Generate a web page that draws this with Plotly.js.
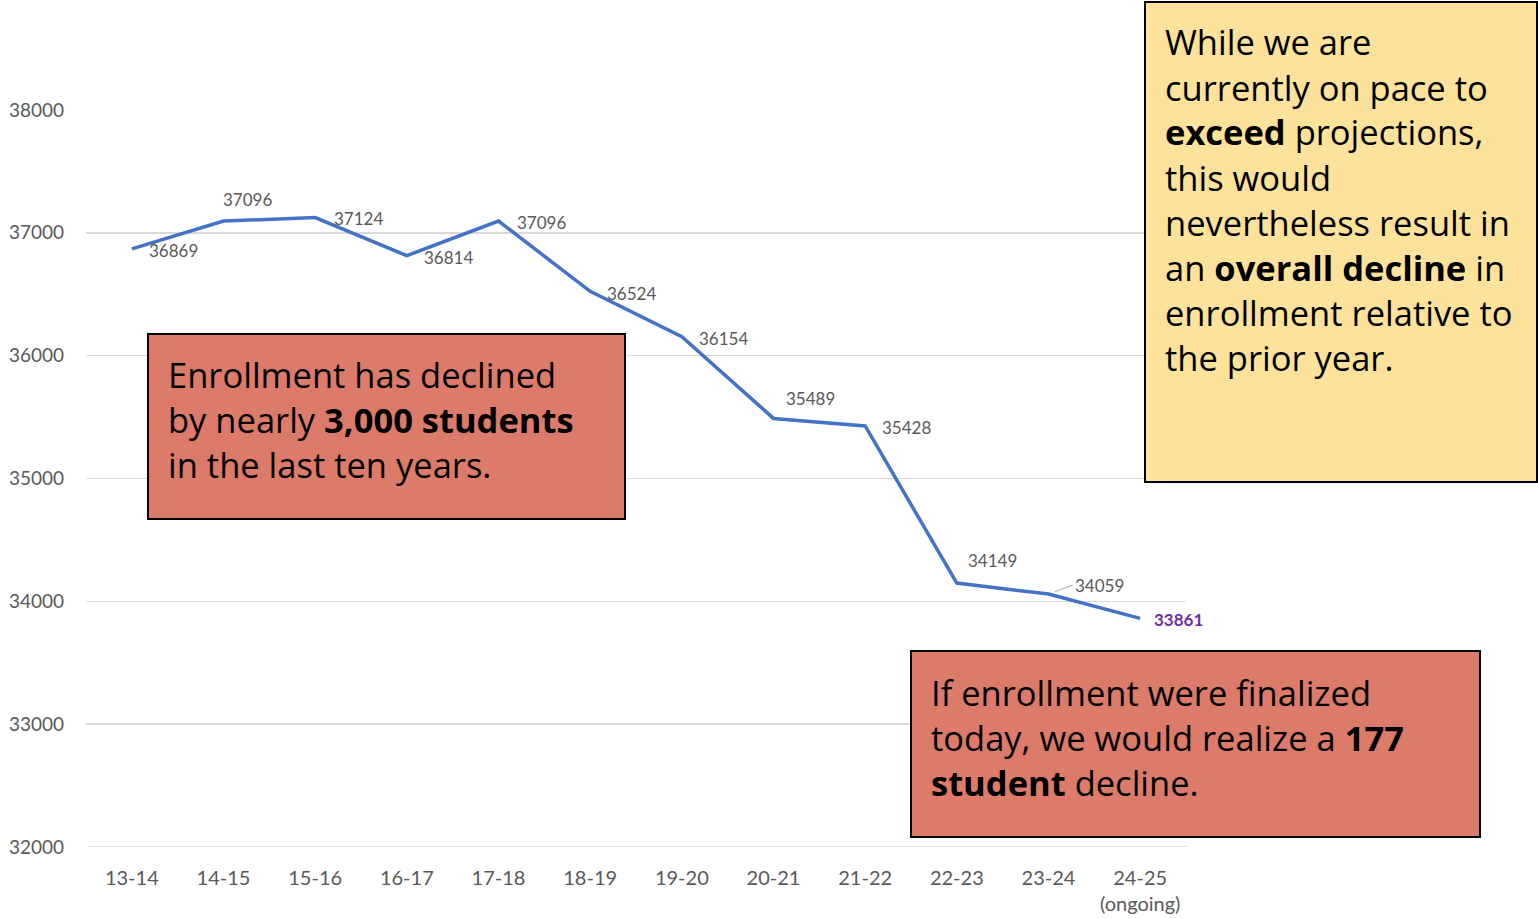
<!DOCTYPE html>
<html>
<head>
<meta charset="utf-8">
<script src="https://cdn.plot.ly/plotly-3.0.1.min.js"></script>
<style>
html,body{margin:0;padding:0;background:#fff;}
#chart{width:1538px;height:919px;}
</style>
</head>
<body>
<div id="chart"></div>
<script>
// ---- data ----
var years = ["13-14","14-15","15-16","16-17","17-18","18-19","19-20","20-21","21-22","22-23","23-24","24-25"];
var yearLabels = ["13-14","14-15","15-16","16-17","17-18","18-19","19-20","20-21","21-22","22-23","23-24","24-25<br>(ongoing)"];
var enrollment = [36869, 37096, 37124, 36814, 37096, 36524, 36154, 35489, 35428, 34149, 34059, 33861];
var yTicks = [32000, 33000, 34000, 35000, 36000, 37000, 38000];

var box1Lines = ["Enrollment has declined", "by nearly <b>3,000 students</b>", "in the last ten years."];
var box2Lines = ["If enrollment were finalized", "today, we would realize a <b>177</b>", "<b>student</b> decline."];
var box3Lines = ["While we are", "currently on pace to", "<b>exceed</b> projections,", "this would",
                 "nevertheless result in", "an <b>overall decline</b> in", "enrollment relative to", "the prior year."];

// ---- label placement (style) ----
// [xshift, yshift, xanchor]
var labelPos = [
  [15,-2,"left"],[24,22,"center"],[17,-1,"left"],[15,-2,"left"],[16,-1,"left"],[15,-2,"left"],
  [15,-2,"left"],[37,20,"center"],[15,-2,"left"],[36,23,"center"],[0,0,"left"],[12,-1,"left"]
];

// plot area in pixels
var L = 86, R = 1186, T = 110, B = 847;
function px(x){ return (x - L) / (R - L); }
function py(y){ return (B - y) / (B - T); }

var annotations = [];
enrollment.forEach(function(v, i){
  var p = labelPos[i];
  var isLast = i === enrollment.length - 1;
  if (i === 10) {
    annotations.push({
      x: i, y: v, xref: "x", yref: "y",
      text: String(v), showarrow: true, arrowhead: 0, arrowwidth: 1, arrowcolor: "#a6a6a6",
      ax: 24, ay: -9, standoff: 7, xanchor: "left", yanchor: "middle",
      font: {family: "Lato, sans-serif", size: 17, color: "#595959"}
    });
    return;
  }
  annotations.push({
    x: i, y: v, xref: "x", yref: "y",
    text: isLast ? "<b>" + v + "</b>" : String(v),
    showarrow: false, xanchor: p[2], yanchor: "middle",
    xshift: p[0], yshift: p[1],
    font: {family: "Lato, sans-serif", size: 17, color: isLast ? "#7030a0" : "#595959"}
  });
});

var boxFont = {family: "'Open Sans', sans-serif", size: 34.5, color: "#000"};
function addLines(lines, left, firstCenter){
  lines.forEach(function(t, k){
    annotations.push({
      xref: "paper", yref: "paper", x: px(left), y: py(firstCenter + 45 * k),
      xanchor: "left", yanchor: "middle", align: "left", showarrow: false,
      font: boxFont, text: t
    });
  });
}
addLines(box1Lines, 166, 374);
addLines(box2Lines, 929, 692);
addLines(box3Lines, 1163, 42);

var shapes = [
  {type: "line", xref: "paper", yref: "y", x0: px(88), x1: px(1188), y0: yTicks[0], y1: yTicks[0],
   line: {color: "#d9d9d9", width: 1.5}, layer: "below"},
  {type: "rect", xref: "paper", yref: "paper", x0: px(148), x1: px(625), y0: py(334), y1: py(519),
   fillcolor: "#dd7b6a", line: {color: "#000", width: 2}, layer: "above"},
  {type: "rect", xref: "paper", yref: "paper", x0: px(911), x1: px(1480), y0: py(651), y1: py(837),
   fillcolor: "#dd7b6a", line: {color: "#000", width: 2}, layer: "above"},
  {type: "rect", xref: "paper", yref: "paper", x0: px(1145), x1: px(1537), y0: py(2), y1: py(482),
   fillcolor: "#fde29b", line: {color: "#000", width: 2}, layer: "above"}
];

var trace = {
  x: years, y: enrollment, type: "scatter", mode: "lines",
  line: {color: "#4472c4", width: 3.5},
  hoverinfo: "skip"
};

var layout = {
  width: 1538, height: 919,
  margin: {l: L, r: 1538 - R, t: T, b: 919 - B},
  paper_bgcolor: "#fff", plot_bgcolor: "#fff",
  showlegend: false,
  xaxis: {
    type: "category", range: [-0.5, 11.5],
    tickvals: years, ticktext: yearLabels,
    showgrid: false, zeroline: false, showline: false, ticks: "",
    ticklabelstandoff: 17,
    tickfont: {family: "Lato, sans-serif", size: 20, color: "#595959"}
  },
  yaxis: {
    range: [32000, 38000], tickvals: yTicks, ticktext: yTicks.map(String),
    showgrid: true, gridcolor: "#d9d9d9", gridwidth: 1.5,
    zeroline: false, showline: false, ticks: "",
    ticklabelstandoff: 21,
    tickfont: {family: "Lato, sans-serif", size: 19, color: "#595959"}
  },
  annotations: annotations,
  shapes: shapes
};

Plotly.newPlot("chart", [trace], layout, {displayModeBar: false, staticPlot: true});
</script>
</body>
</html>
